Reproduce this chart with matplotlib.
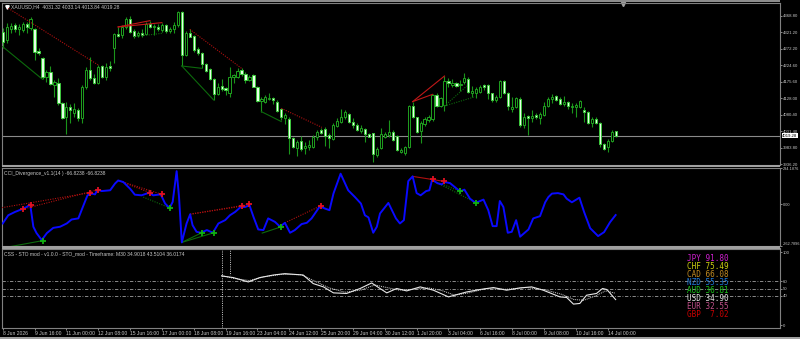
import numpy as np
import matplotlib.pyplot as plt
from matplotlib.patches import Rectangle
from matplotlib.transforms import blended_transform_factory

# XAUUSD H4 candles, one per bar (index 0 = 8 Jun 2026 00:00)
opens = [4320.3, 4297.9, 4329.0, 4340.7, 4329.0, 4327.1, 4344.6, 4331.9, 4331.0, 4266.8,
         4246.4, 4189.0, 4204.6, 4166.7, 4171.5, 4113.2, 4074.3, 4102.5, 4086.0, 4093.7,
         4069.4, 4159.9, 4210.4, 4186.1, 4173.5, 4222.1, 4191.0, 4222.1, 4273.6, 4316.4,
         4311.5, 4334.9, 4359.2, 4325.1, 4313.5, 4317.4, 4315.4, 4345.6, 4335.8, 4336.8,
         4327.1, 4340.7, 4325.1, 4329.0, 4341.7, 4379.6, 4254.2, 4319.3, 4309.6, 4270.7,
         4259.0, 4227.9, 4212.4, 4185.1, 4140.4, 4163.7, 4157.9, 4142.4, 4189.0, 4191.0,
         4209.4, 4198.7, 4181.2, 4194.9, 4161.8, 4121.0, 4118.1, 4124.9, 4129.7, 4118.1,
         4095.7, 4069.4, 4068.5, 4011.1, 3981.9, 4004.3, 3982.9, 3986.8, 3986.8, 4014.0,
         4034.4, 4039.3, 4019.8, 4008.2, 4047.1, 4059.7, 4074.3, 4083.1, 4059.7, 4050.0,
         4033.4, 4037.3, 4022.7, 4025.7, 3961.5, 3981.9, 4015.9, 4021.8, 4029.6, 4017.9,
         3972.2, 3969.3, 3986.8, 4105.4, 4072.4, 4033.4, 4052.9, 4064.6, 4066.5, 4136.5,
         4105.4, 4108.3, 4178.3, 4167.6, 4171.5, 4165.7, 4175.4, 4185.1, 4142.4, 4142.4,
         4147.2, 4166.7, 4165.7, 4142.4, 4122.9, 4130.7, 4178.3, 4144.3, 4095.7, 4103.5,
         4126.8, 4050.0, 4076.2, 4069.4, 4079.2, 4069.4, 4079.2, 4105.4, 4124.9, 4134.6,
         4125.8, 4112.2, 4117.1, 4102.5, 4102.5, 4103.5, 4094.7, 4086.9, 4054.8, 4068.5,
         4056.8, 3994.6, 3984.9, 4002.3, 4031.32]
highs = [4331.9, 4346.5, 4346.5, 4346.5, 4344.6, 4351.4, 4351.4, 4364.0, 4333.9, 4273.6,
         4249.3, 4210.4, 4222.1, 4181.2, 4186.1, 4118.1, 4118.1, 4111.3, 4113.2, 4098.6,
         4166.7, 4220.1, 4247.4, 4198.7, 4225.0, 4225.0, 4231.8, 4236.7, 4319.3, 4334.9,
         4341.7, 4366.0, 4367.9, 4331.0, 4325.1, 4331.0, 4351.4, 4354.3, 4344.6, 4344.6,
         4348.5, 4344.6, 4336.8, 4351.4, 4382.5, 4382.5, 4325.1, 4329.0, 4312.5, 4278.5,
         4263.9, 4231.8, 4215.3, 4187.1, 4171.5, 4183.2, 4161.8, 4220.1, 4198.7, 4215.3,
         4215.3, 4205.6, 4195.8, 4198.7, 4163.7, 4132.6, 4137.5, 4144.3, 4132.6, 4122.9,
         4098.6, 4084.0, 4072.4, 4015.9, 4006.2, 4017.9, 4001.4, 4006.2, 4020.8, 4035.4,
         4040.3, 4045.1, 4025.7, 4054.8, 4069.4, 4095.7, 4093.7, 4086.0, 4069.4, 4054.8,
         4050.0, 4040.3, 4027.6, 4027.6, 3986.8, 4040.3, 4030.5, 4064.6, 4035.4, 4020.8,
         3981.9, 3988.7, 4108.3, 4118.1, 4074.3, 4062.6, 4074.3, 4079.2, 4139.4, 4142.4,
         4132.6, 4192.9, 4186.1, 4183.2, 4176.4, 4181.2, 4202.6, 4189.0, 4163.7, 4159.9,
         4166.7, 4169.6, 4169.6, 4144.3, 4137.5, 4181.2, 4181.2, 4146.2, 4132.6, 4132.6,
         4130.7, 4084.0, 4079.2, 4093.7, 4084.0, 4088.9, 4118.1, 4130.7, 4139.4, 4137.5,
         4130.7, 4134.6, 4121.0, 4113.2, 4115.1, 4122.9, 4103.5, 4091.8, 4074.3, 4072.4,
         4059.7, 3998.4, 4008.2, 4035.4, 4033.14]
lows = [4273.6, 4290.1, 4317.4, 4322.2, 4312.5, 4322.2, 4319.3, 4327.1, 4239.6, 4254.2,
        4183.2, 4176.4, 4165.7, 4132.6, 4108.3, 4066.5, 4023.7, 4054.8, 4072.4, 4062.6,
        4054.8, 4154.0, 4181.2, 4169.6, 4169.6, 4186.1, 4181.2, 4208.5, 4231.8, 4305.7,
        4302.8, 4329.0, 4317.4, 4303.8, 4305.7, 4307.6, 4312.5, 4331.9, 4312.5, 4325.1,
        4322.2, 4317.4, 4317.4, 4317.4, 4336.8, 4222.1, 4251.3, 4305.7, 4263.9, 4254.2,
        4215.3, 4205.6, 4181.2, 4122.9, 4137.5, 4150.1, 4137.5, 4132.6, 4171.5, 4186.1,
        4192.9, 4171.5, 4179.3, 4159.9, 4118.1, 4088.9, 4113.2, 4122.9, 4111.3, 4088.9,
        4064.6, 4052.9, 3965.4, 3981.9, 3959.5, 3975.1, 3965.4, 3977.1, 3981.9, 4006.2,
        4023.7, 3988.7, 3981.9, 4006.2, 4045.1, 4056.8, 4066.5, 4056.8, 4040.3, 4033.4,
        4027.6, 4001.4, 4014.0, 3943.0, 3955.7, 3979.0, 4011.1, 4014.0, 4004.3, 3975.1,
        3969.3, 3962.5, 3981.9, 4069.4, 4025.7, 3998.4, 4047.1, 4059.7, 4062.6, 4103.5,
        4101.5, 4091.8, 4161.8, 4159.9, 4161.8, 4150.1, 4169.6, 4144.3, 4132.6, 4127.8,
        4142.4, 4152.1, 4124.9, 4118.1, 4118.1, 4127.8, 4140.4, 4093.7, 4088.9, 4098.6,
        4045.1, 4040.3, 4020.8, 4059.7, 4066.5, 4052.9, 4076.2, 4103.5, 4113.2, 4121.0,
        4108.3, 4105.4, 4095.7, 4086.0, 4072.4, 4098.6, 4059.7, 4052.9, 4045.1, 4052.9,
        3986.8, 3977.1, 3972.2, 4000.4, 4013.84]
closes = [4293.1, 4336.8, 4338.8, 4329.0, 4334.9, 4344.6, 4334.9, 4359.2, 4263.9, 4259.0,
          4189.0, 4204.6, 4169.6, 4174.4, 4113.2, 4069.4, 4101.5, 4093.7, 4097.6, 4069.4,
          4159.9, 4210.4, 4186.1, 4173.5, 4220.1, 4191.0, 4220.1, 4217.2, 4315.4, 4309.6,
          4334.9, 4359.2, 4322.2, 4309.6, 4317.4, 4313.5, 4344.6, 4336.8, 4337.8, 4329.0,
          4342.6, 4325.1, 4331.0, 4342.6, 4379.6, 4254.2, 4317.4, 4307.6, 4268.8, 4259.0,
          4227.9, 4208.5, 4183.2, 4140.4, 4161.8, 4155.0, 4152.1, 4191.0, 4194.9, 4208.5,
          4198.7, 4181.2, 4191.0, 4161.8, 4121.0, 4125.8, 4130.7, 4128.7, 4122.9, 4091.8,
          4074.3, 4078.2, 4011.1, 3986.8, 3999.4, 3979.0, 3989.7, 3990.7, 4014.0, 4029.6,
          4027.6, 4017.9, 4011.1, 4049.0, 4060.7, 4074.3, 4086.9, 4059.7, 4051.0, 4035.4,
          4040.3, 4023.7, 4015.9, 3965.4, 3980.0, 4023.7, 4023.7, 4030.5, 4006.2, 3977.1,
          3977.1, 3984.9, 4105.4, 4072.4, 4030.5, 4054.8, 4067.5, 4072.4, 4136.5, 4105.4,
          4128.7, 4177.4, 4171.5, 4171.5, 4164.7, 4169.6, 4186.1, 4147.2, 4150.1, 4155.0,
          4161.8, 4159.9, 4142.4, 4122.9, 4130.7, 4177.4, 4142.4, 4105.4, 4103.5, 4128.7,
          4050.0, 4072.4, 4069.4, 4077.2, 4072.4, 4082.1, 4105.4, 4125.8, 4132.6, 4122.9,
          4111.3, 4117.1, 4105.4, 4106.4, 4107.4, 4119.0, 4087.9, 4056.8, 4067.5, 4056.8,
          3994.6, 3979.0, 4002.3, 4030.5, 4019.28]

price_ticks = [4368.80, 4321.20, 4272.20, 4224.60, 4175.60, 4128.00, 4080.40, 4031.40, 3983.80, 3936.20]

# divergence segments: (bar0, value0, bar1, value1)
price_red_dotted = [(1.4, 4390.4, 24, 4225.0), (47, 4329.0, 60, 4215.3), (70, 4098.6, 80.2, 4043.0)]
price_red_solid = [(29, 4336.0, 37, 4354.3), (29, 4336.0, 40, 4348.5),
                   (103, 4118.1, 111, 4192.9), (103, 4118.1, 108, 4139.4)]
price_green_solid = [(0, 4278.4, 10, 4183.2), (45, 4222.1, 50, 4215.3), (45, 4222.1, 53, 4122.9),
                     (65, 4088.9, 70, 4060.0)]
price_green_dotted = [(33, 4307.5, 40, 4317.4), (111, 4105.4, 116.6, 4163.7), (111, 4105.4, 118.7, 4132.5)]

# CCI(14) line: (bar, value)
cci_points = [(0, -120), (1.4, -68), (3.1, -47), (4.8, -30), (6.0, -16), (6.9, 1), (7.7, -141),
              (8.5, -181), (9.8, -225), (11.1, -181), (12.7, -148), (14.4, -141), (16.1, -120),
              (17.3, -95), (19.0, -88), (20.3, -5), (21.3, 58), (22.4, 69), (23.2, 64), (23.8, 94),
              (24.9, 85), (27.0, 90), (28.2, 132), (29.0, 152), (30.3, 142), (32.0, 100), (33.2, 62),
              (34.9, 58), (36.8, 75), (37.8, 58), (39.7, 64), (40.8, 6), (41.9, -22), (42.7, 16),
              (43.7, 211), (44.3, 47), (45.0, -240), (46.2, -120), (47.1, -62), (47.7, -131),
              (48.7, -173), (49.8, -179), (51.3, -162), (52.8, -179), (54.2, -120), (55.9, -99),
              (57.1, -68), (58.4, -47), (59.8, -16), (60.9, -16), (62.0, -5), (63.0, -78),
              (64.2, -158), (65.5, -162), (66.7, -88), (68.4, -110), (69.7, -141), (70.9, -116),
              (72.2, -179), (73.4, -162), (75.1, -124), (76.4, -116), (77.6, -88), (79.7, -11),
              (81.0, -26), (82.1, -36), (83.1, 69), (84.9, 195), (86.8, 90), (88.5, 47), (90.0, 6),
              (91.0, -68), (91.9, -82), (93.1, -179), (94.0, -141), (94.8, -57), (96.9, 10),
              (98.8, -88), (99.8, -120), (100.8, -99), (101.9, 148), (103.0, 178), (104.0, 72),
              (105.0, 58), (106.4, 85), (107.2, 90), (107.9, 157), (109.2, 135), (110.3, 127),
              (111.1, 142), (112.4, 135), (114.9, 83), (116.0, 94), (117.4, 37), (118.8, 10),
              (120.8, 31), (122.0, -36), (123.1, -137), (124.1, -137), (124.9, 22), (125.8, -16),
              (126.9, -179), (127.9, -173), (129.0, -99), (130.0, -204), (132.1, -158),
              (133.3, -88), (135.0, -74), (136.3, 14), (137.1, 47), (138.0, 69), (139.5, 72),
              (140.9, 64), (141.7, 37), (143.0, 14), (144.9, 43), (146.1, -49), (147.6, -150),
              (149.6, -200), (151.1, -175), (152.6, -112), (154.0, -66.8238)]
cci_red_marks_x = [5, 7, 22, 24, 37, 40, 60, 62, 80, 108, 111]
cci_red_marks_y = [-30, -5, 75, 94, 75, 64, -11, 1, -7, 160, 146]
cci_green_marks_x = [10, 42, 50, 53, 70, 115, 119]
cci_green_marks_y = [-229, -22, -179, -179, -141, 83, 10]
cci_red_dotted = [(-0.2, -20, 22, 75), (5, -30, 24, 94), (29, 152, 37, 75), (29, 152, 40, 64),
                  (47.1, -61.5, 60, -11), (47.1, -61.5, 62, 1), (70.9, -116, 80, -7)]
cci_red_solid = [(103, 178, 111, 146)]
cci_green_solid = [(1.8, -267, 10, -229), (45, -240, 50, -179), (45, -240, 53, -179), (65.2, -181, 70, -141)]
cci_green_dotted = [(35.3, 47, 42, -22), (108, 152, 119, 10), (108, 152, 115, 83)]
cci_ticks = [234.1876, 0, -262.7896]

# CSS STO (M30) lines: (bar, value)
sto_main = [(55.0, 67.3), (57.9, 65.1), (61.7, 59.1), (64.6, 65.1), (68.0, 68.6), (70.9, 70.5),
            (75.5, 68.6), (78.0, 56.9), (80.6, 52.3), (83.1, 44.1), (86.4, 43.3), (89.8, 50.1),
            (92.7, 57.7), (94.8, 50.1), (96.5, 44.1), (99.0, 50.1), (101.5, 46.8), (104.9, 52.3),
            (108.2, 47.8), (112.0, 38.6), (116.6, 45.4), (119.9, 48.7), (123.3, 51.4), (126.6, 47.8),
            (130.0, 50.9), (132.9, 52.3), (135.8, 47.8), (140.0, 38.6), (141.7, 37.8), (143.4, 28.7),
            (145.0, 29.6), (146.7, 40.9), (149.2, 43.3), (150.7, 50.1), (151.8, 48.7), (154.0, 34.9)]
sto_signal = [(55.0, 68.0), (58.0, 64.0), (62.0, 61.0), (65.5, 66.0), (70.0, 69.5), (75.0, 69.0),
              (78.5, 60.0), (82.0, 51.0), (86.0, 45.0), (90.0, 48.0), (93.5, 55.0), (96.0, 52.0),
              (99.5, 48.0), (103.0, 49.0), (107.0, 51.0), (110.5, 47.0), (113.5, 41.0), (117.0, 44.0),
              (121.5, 50.0), (126.5, 49.0), (131.5, 51.5), (136.5, 48.0), (140.5, 42.0), (143.5, 35.0),
              (146.0, 34.0), (149.0, 40.0), (151.5, 47.0), (154.0, 43.5)]
sto_levels = [60, 50, 40]
sto_ticks = [100, 60, 50, 40, 0]
currencies = ['JPY', 'CHF', 'CAD', 'NZD', 'AUD', 'USD', 'EUR', 'GBP']
strength = [91.80, 75.49, 66.08, 55.35, 36.81, 34.90, 32.55, 7.02]
cur_colors = ['#d01fd0', '#cccc10', '#c08a22', '#1e78d8', '#18c018', '#e0e0e0', '#c0508a', '#c80000']

time_bars = list(range(0, 153, 8))
time_labels = ['8 Jun 2026', '9 Jun 16:00', '11 Jun 00:00', '12 Jun 08:00', '15 Jun 16:00',
               '17 Jun 00:00', '18 Jun 08:00', '19 Jun 16:00', '23 Jun 04:00', '24 Jun 12:00',
               '25 Jun 20:00', '29 Jun 04:00', '30 Jun 12:00', '1 Jul 20:00', '3 Jul 04:00',
               '6 Jul 16:00', '8 Jul 00:00', '9 Jul 08:00', '10 Jul 16:00', '14 Jul 00:00']

W, H = 800, 339
X0, X1 = -0.18, 195.3
FS = 3.6
GRAY = '#808080'
TXT = '#c8c8c8'
plt.rcParams['font.family'] = ['Liberation Sans', 'DejaVu Sans']

fig = plt.figure(figsize=(W / 100, H / 100), dpi=100, facecolor='black')


def px_rect(x, y, w, h, color):
    fig.add_artist(Rectangle((x / W, 1 - (y + h) / H), w / W, h / H,
                             transform=fig.transFigure, color=color, lw=0))


def pane(top, bottom, fs):
    ax = fig.add_axes([2 / W, 1 - bottom / H, 778 / W, (bottom - top) / H])
    ax.set_facecolor('black')
    for s in ax.spines.values():
        s.set_color(GRAY)
        s.set_linewidth(0.8)
    ax.set_xlim(X0, X1)
    ax.yaxis.tick_right()
    ax.tick_params(axis='y', length=1.5, width=0.6, color='#a0a0a0', labelcolor=TXT,
                   labelsize=fs, pad=0.6)
    ax.tick_params(axis='x', bottom=False, labelbottom=False)
    return ax


ax1 = pane(3, 165, 3.1)
ax2 = pane(167.5, 246, 2.8)
ax3 = pane(248.5, 328, 3.1)

# ---- price pane ----
x = np.arange(len(opens))
o, hi, lo, c = (np.array(a) for a in (opens, highs, lows, closes))
up = c >= o
ax1.axhline(closes[-1], color='#8a8a8a', lw=0.8, zorder=1)
ax1.vlines(x, lo, hi, color='#1a941a', lw=0.8, zorder=2)
ax1.bar(x[up], (c - o)[up], bottom=o[up], width=0.55, color='black',
        edgecolor='#1fa01f', lw=0.7, zorder=3)
ax1.bar(x[~up], (o - c)[~up], bottom=c[~up], width=0.55, color='#e6ffe6',
        edgecolor='#3cc83c', lw=0.7, zorder=3)


def segs(ax, lst, color, ls):
    for a, b, cc, d in lst:
        ax.plot([a, cc], [b, d], color=color, lw=0.8, ls=ls, zorder=4)


DOT = (0, (1, 1.2))
segs(ax1, price_red_dotted, '#b01010', DOT)
segs(ax1, price_red_solid, '#c01818', '-')
segs(ax1, price_green_solid, '#0c6a0c', '-')
segs(ax1, price_green_dotted, '#0c6a0c', DOT)

ax1.set_ylim(3933.3, 4405.8)
ax1.set_yticks(price_ticks)
ax1.set_yticklabels([f'{v:.2f}' for v in price_ticks])
tr = blended_transform_factory(ax1.transAxes, ax1.transData)
ax1.text(1.003, closes[-1], f'{closes[-1]:.2f}', transform=tr, color='black', fontsize=3.1,
         va='center', ha='left', bbox=dict(facecolor='white', edgecolor='none', pad=0.4))
ax1.plot([0.0065], [0.975], marker='v', color='white', ms=2.5, transform=ax1.transAxes, clip_on=False)
ax1.text(0.012, 0.975, f'XAUUSD,H4  {opens[-1]:.2f} {highs[-1]:.2f} {lows[-1]:.2f} {closes[-1]:.2f}',
         transform=ax1.transAxes, color=TXT, fontsize=FS, va='center', ha='left')
ax1.plot([0.798], [0.995], marker='v', color='#a0a0a0', ms=3, transform=ax1.transAxes, clip_on=False)

# ---- CCI pane ----
cx, cv = zip(*cci_points)
segs(ax2, cci_red_dotted, '#b01010', DOT)
segs(ax2, cci_red_solid, '#b01010', '-')
segs(ax2, cci_green_solid, '#0c6a0c', '-')
segs(ax2, cci_green_dotted, '#0c6a0c', DOT)
ax2.plot(cx, cv, color='#0a0aff', lw=1.4, zorder=5)
ax2.plot(cci_red_marks_x, cci_red_marks_y, ls='none', marker='+', ms=4.5, mew=1.3,
         color='#e01020', zorder=6)
ax2.plot(cci_green_marks_x, cci_green_marks_y, ls='none', marker='+', ms=4.5, mew=1.3,
         color='#10b010', zorder=6)
ax2.set_ylim(cci_ticks[-1], cci_ticks[0])
ax2.set_yticks(cci_ticks)
ax2.set_yticklabels(['234.1876', '0.00', '-262.7896'])
lbl = ax2.get_yticklabels()
lbl[0].set_va('top')
lbl[2].set_va('bottom')
ax2.text(0.003, 0.96, 'CCI_Divergence_v1.1(14 ) -66.8238 -66.8238', transform=ax2.transAxes,
         color=TXT, fontsize=FS, va='top', ha='left')

# ---- CSS STO pane ----
for lv in sto_levels:
    ax3.axhline(lv, color='#a0a0a0', lw=0.6, ls=(0, (4, 2, 1, 2)), zorder=1)
ax3.axvline(55, color='#d0d0d0', lw=0.7, ls=(0, (1, 1.3)), zorder=2)
ax3.plot([57, 57], [105, 68], color='#d0d0d0', lw=0.7, ls=(0, (1, 1.3)), zorder=2)
sx, sv = zip(*sto_main)
gx, gv = zip(*sto_signal)
ax3.plot(gx, gv, color='#d8d8d8', lw=0.7, ls=(0, (1, 1)), zorder=3)
ax3.plot(sx, sv, color='#e8e8e8', lw=0.8, zorder=4)
ax3.set_ylim(-4.1, 105.0)
ax3.set_yticks(sto_ticks)
ax3.set_yticklabels([str(v) for v in sto_ticks])
ax3.text(0.003, 0.96, 'CSS - STO mod - v1.0.0 - STO_mod - Timeframe: M30 34.9018 43.5104 36.0174',
         transform=ax3.transAxes, color=TXT, fontsize=FS, va='top', ha='left')
for k, (name, val, col) in enumerate(zip(currencies, strength, cur_colors)):
    fig.text(686.7 / W, 1 - (258.3 + 8 * k) / H, f'{name} {val:5.2f}', color=col,
             family='DejaVu Sans Mono', fontsize=5.5, va='center', ha='left')

ax3.set_xticks(time_bars)
ax3.set_xticklabels(time_labels)
ax3.tick_params(axis='x', bottom=True, labelbottom=True, length=1.5, width=0.6,
                color='#a0a0a0', labelcolor=TXT, labelsize=FS, pad=0.8)
for t in ax3.get_xticklabels():
    t.set_ha('left')

# separators and frame
px_rect(0, 0, 780, 2, '#8c8c8c')
px_rect(2, 165, 778, 2.5, '#a0a0a0')
px_rect(2, 246, 778, 2.5, '#a0a0a0')
px_rect(0, 336.5, 800, 2.5, '#a0a0a0')

fig.savefig('out.png', dpi=100, facecolor='black')
